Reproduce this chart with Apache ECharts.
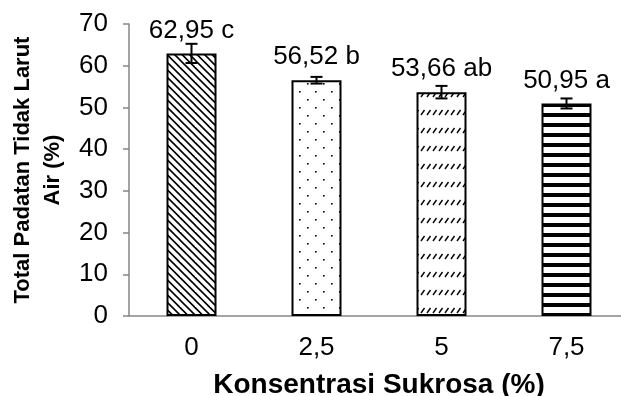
<!DOCTYPE html>
<html>
<head>
<meta charset="utf-8">
<script src="https://cdn.jsdelivr.net/npm/echarts@6/dist/echarts.min.js"></script>
<style>
  html, body { margin: 0; padding: 0; background: #fff; }
  #chart { width: 621px; height: 396px; }
</style>
</head>
<body>
<div id="chart"></div>
<script>
// data
const categories = ['0', '2,5', '5', '7,5'];
const means = [62.95, 56.52, 53.66, 50.95];
const errors = [2.3, 0.8, 1.5, 1.2];
const letters = ['c', 'b', 'ab', 'a'];
const yTicks = { min: 0, max: 70, interval: 10 };

// fill patterns like the old Excel ones
function makeTile(w, h, draw) {
  const c = document.createElement('canvas');
  c.width = w;
  c.height = h;
  const ctx = c.getContext('2d');
  ctx.fillStyle = '#fff';
  ctx.fillRect(0, 0, w, h);
  ctx.strokeStyle = '#000';
  ctx.fillStyle = '#000';
  draw(ctx);
  return { image: c, repeat: 'repeat' };
}

const patterns = [
  // dense backslash lines
  makeTile(15, 15, ctx => {
    ctx.lineWidth = 1.6;
    for (let o = -15; o <= 15; o += 7.5) {
      ctx.beginPath();
      ctx.moveTo(o - 2, -2);
      ctx.lineTo(o + 17, 17);
      ctx.stroke();
    }
  }),
  // sparse dots
  makeTile(16, 16, ctx => {
    ctx.fillRect(3, 3, 1.6, 1.6);
    ctx.fillRect(11, 11, 1.6, 1.6);
  }),
  // rows of short dashed slashes
  makeTile(6, 18, ctx => {
    ctx.lineWidth = 1.4;
    ctx.beginPath();
    ctx.moveTo(1, 7);
    ctx.lineTo(4.5, 2);
    ctx.stroke();
  }),
  // thick horizontal stripes
  makeTile(8, 10, ctx => {
    ctx.fillRect(0, 3, 8, 4);
  })
];

const barData = means.map((v, i) => ({
  value: v,
  itemStyle: { color: patterns[i] }
}));
const errData = means.map((v, i) => [i, v - errors[i], v + errors[i]]);

const chart = echarts.init(document.getElementById('chart'));
const font = 'Liberation Sans, Arial, sans-serif';

chart.setOption({
  animation: false,
  backgroundColor: '#fff',
  grid: {
    left: 129,
    top: 24,
    width: 500,
    height: 292,
    containLabel: false,
    outerBoundsMode: 'none'
  },
  xAxis: {
    type: 'category',
    data: categories,
    name: 'Konsentrasi Sukrosa (%)',
    nameLocation: 'middle',
    nameGap: 55,
    nameTextStyle: { fontFamily: font, fontSize: 28, fontWeight: 'bold', color: '#000' },
    axisLine: { lineStyle: { color: '#868686', width: 1.5 } },
    axisTick: { length: 8, lineStyle: { color: '#868686', width: 1.5 } },
    axisLabel: { fontFamily: font, fontSize: 26, color: '#000', margin: 19 }
  },
  yAxis: {
    type: 'value',
    min: yTicks.min,
    max: yTicks.max,
    interval: yTicks.interval,
    name: 'Total Padatan Tidak Larut\nAir (%)',
    nameLocation: 'middle',
    nameRotate: 90,
    nameGap: 55,
    nameTextStyle: { fontFamily: font, fontSize: 22, fontWeight: 'bold', color: '#000', lineHeight: 30 },
    axisLine: { show: true, lineStyle: { color: '#868686', width: 1.5 } },
    axisTick: { show: true, length: 6, lineStyle: { color: '#868686', width: 1.5 } },
    splitLine: { show: false },
    axisLabel: { fontFamily: font, fontSize: 26, color: '#000', margin: 21 }
  },
  series: [
    {
      type: 'bar',
      data: barData,
      barWidth: 50,
      itemStyle: { borderColor: '#000', borderWidth: 2 },
      label: {
        show: true,
        position: 'top',
        distance: 10,
        fontFamily: font,
        fontSize: 26,
        color: '#000',
        formatter: p => p.value.toFixed(2).replace('.', ',') + ' ' + letters[p.dataIndex]
      },
      z: 2
    },
    {
      type: 'custom',
      data: errData,
      z: 3,
      renderItem: (params, api) => {
        const x = api.value(0);
        const lo = api.coord([x, api.value(1)]);
        const hi = api.coord([x, api.value(2)]);
        const cap = 6;
        const style = { stroke: '#000', lineWidth: 2 };
        return {
          type: 'group',
          children: [
            { type: 'line', shape: { x1: lo[0], y1: lo[1], x2: hi[0], y2: hi[1] }, style },
            { type: 'line', shape: { x1: hi[0] - cap, y1: hi[1], x2: hi[0] + cap, y2: hi[1] }, style },
            { type: 'line', shape: { x1: lo[0] - cap, y1: lo[1], x2: lo[0] + cap, y2: lo[1] }, style }
          ]
        };
      }
    }
  ]
});
</script>
</body>
</html>
